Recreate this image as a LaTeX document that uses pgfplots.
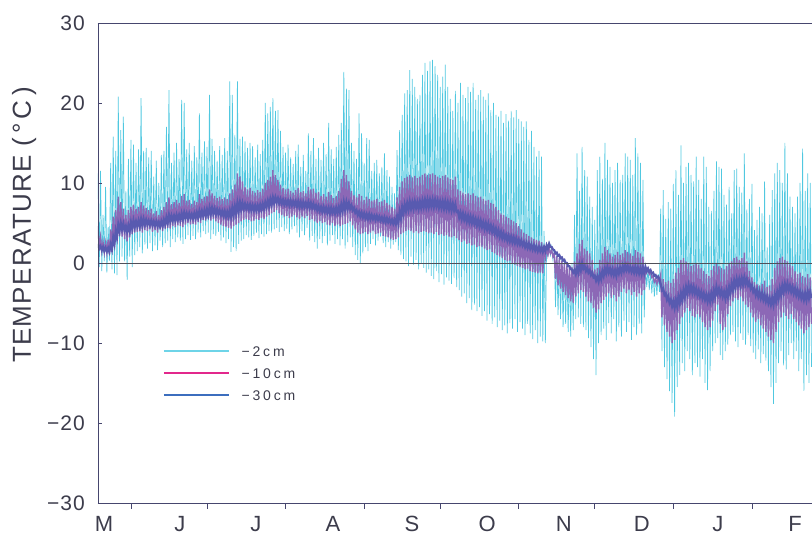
\documentclass[border=0pt]{standalone}
\usepackage{pgfplots}
\pgfplotsset{compat=1.18}
\usepackage{pgfplotstable}
\usepackage{fontspec}
\setmainfont{Liberation Sans}[LetterSpace=5]
\newfontfamily\legfont{Liberation Sans}[LetterSpace=20]
\definecolor{c2}{RGB}{80,200,224}
\definecolor{p10}{RGB}{140,104,182}
\definecolor{b30}{RGB}{88,90,176}
\definecolor{legc}{RGB}{110,212,232}
\definecolor{legm}{RGB}{226,40,140}
\definecolor{legb}{RGB}{60,110,190}
\definecolor{axcol}{RGB}{70,70,110}
\definecolor{zerocol}{RGB}{80,80,90}
\definecolor{txtcol}{RGB}{60,60,75}
% soil temperature: rows alternate daily maximum (t = day) and daily minimum (t = day + 0.5)
\pgfplotstableread{
t T2 T10 T30
0 11.2 4.6 2.4
0.5 -0.5 1.8 1.8
1 11.5 3.2 2.1
1.5 -1.0 1.5 1.6
2 6.0 2.6 2.0
2.5 0.2 1.3 1.5
3 9.5 2.5 1.9
3.5 -1.2 1.2 1.5
4 4.5 2.9 1.9
4.5 0.3 1.1 1.4
5 12.5 4.2 2.3
5.5 -0.8 1.4 1.7
6 15.8 5.8 3.2
6.5 -1.3 2.2 2.4
7 14.0 6.6 4.0
7.5 -1.5 2.8 3.2
8 20.8 8.3 4.8
8.5 0.2 3.4 4.0
9 16.6 7.6 5.0
9.5 0.8 3.3 4.2
10 18.3 6.8 4.9
10.5 0.2 3.0 4.1
11 9.0 6.0 4.6
11.5 -2.1 2.7 3.9
12 13.0 6.6 4.7
12.5 0.8 3.2 4.0
13 15.4 7.0 5.1
13.5 -0.5 3.6 4.3
14 14.8 7.3 5.3
14.5 1.0 3.8 4.5
15 12.5 6.8 5.2
15.5 1.5 3.9 4.6
16 14.2 7.0 5.3
16.5 2.0 4.0 4.6
17 20.6 7.6 5.5
17.5 1.2 3.8 4.7
18 14.0 7.2 5.5
18.5 2.3 4.1 4.8
19 14.4 6.9 5.4
19.5 1.8 4.0 4.8
20 13.2 6.6 5.3
20.5 2.5 4.2 4.8
21 14.0 6.8 5.3
21.5 1.5 3.9 4.7
22 10.8 6.2 5.2
22.5 2.2 4.1 4.7
23 12.8 6.5 5.2
23.5 1.6 3.8 4.6
24 10.0 6.0 5.1
24.5 2.8 4.2 4.6
25 13.5 6.6 5.2
25.5 2.0 4.0 4.6
26 14.0 7.0 5.4
26.5 2.5 4.3 4.8
27 17.0 7.6 5.7
27.5 2.8 4.4 5.0
28 21.6 8.2 6.0
28.5 2.0 4.3 5.2
29 12.5 7.4 5.9
29.5 3.0 4.6 5.3
30 13.8 7.6 5.9
30.5 2.6 4.5 5.3
31 15.0 7.9 6.0
31.5 3.2 4.7 5.4
32 13.0 7.5 6.0
32.5 2.8 4.6 5.4
33 20.4 8.4 6.2
33.5 2.4 4.5 5.5
34 20.0 8.6 6.3
34.5 3.0 4.8 5.6
35 14.2 7.8 6.2
35.5 3.5 5.0 5.6
36 15.0 7.9 6.2
36.5 2.9 4.8 5.6
37 12.8 7.4 6.1
37.5 3.4 4.9 5.6
38 14.6 7.8 6.2
38.5 3.0 4.8 5.6
39 13.2 7.6 6.3
39.5 3.8 5.1 5.7
40 18.7 8.6 6.5
40.5 3.2 5.0 5.8
41 13.8 8.0 6.5
41.5 4.0 5.4 5.9
42 15.2 8.3 6.6
42.5 3.6 5.3 5.9
43 14.5 8.4 6.7
43.5 3.8 5.5 6.0
44 21.0 9.2 6.9
44.5 3.0 5.3 6.1
45 15.5 8.7 6.9
45.5 3.6 5.5 6.2
46 14.0 8.4 6.8
46.5 3.4 5.2 6.1
47 12.8 8.1 6.7
47.5 3.9 5.0 6.1
48 14.6 8.3 6.6
48.5 2.8 4.8 6.0
49 13.5 8.0 6.5
49.5 3.2 4.6 5.9
50 15.6 8.2 6.5
50.5 2.5 4.5 5.8
51 14.0 8.0 6.4
51.5 3.0 4.4 5.8
52 22.7 8.7 6.6
52.5 1.4 4.3 5.8
53 21.0 9.2 6.9
53.5 2.0 4.6 6.0
54 16.0 9.8 7.1
54.5 1.5 4.8 6.2
55 22.7 11.2 7.5
55.5 2.4 5.0 6.5
56 15.5 10.8 7.6
56.5 2.8 5.2 6.7
57 15.8 10.2 7.5
57.5 3.0 5.4 6.8
58 15.2 9.5 7.4
58.5 3.5 5.5 6.8
59 14.4 9.2 7.3
59.5 3.2 5.4 6.7
60 15.0 9.4 7.3
60.5 2.9 5.2 6.6
61 14.6 9.0 7.2
61.5 3.4 5.3 6.6
62 13.2 8.8 7.2
62.5 3.8 5.5 6.6
63 14.8 9.1 7.2
63.5 3.1 5.4 6.6
64 13.6 8.9 7.3
64.5 3.6 5.6 6.7
65 15.4 9.3 7.4
65.5 3.3 5.5 6.8
66 20.0 10.0 7.6
66.5 3.6 5.8 7.0
67 18.7 10.4 7.8
67.5 4.0 6.0 7.1
68 19.5 10.8 8.0
68.5 3.8 6.2 7.3
69 20.6 11.6 8.2
69.5 4.2 6.4 7.5
70 19.0 11.0 8.2
70.5 4.4 6.6 7.6
71 19.1 10.4 8.1
71.5 3.9 6.2 7.5
72 16.5 9.8 8.0
72.5 4.5 6.0 7.4
73 14.5 9.4 7.9
73.5 4.0 5.8 7.3
74 13.8 9.2 7.8
74.5 4.3 5.9 7.3
75 14.8 9.3 7.8
75.5 3.6 5.6 7.2
76 13.2 9.0 7.8
76.5 4.2 5.8 7.2
77 12.4 8.8 7.7
77.5 4.6 6.0 7.2
78 14.0 9.1 7.7
78.5 3.8 5.7 7.1
79 14.8 9.4 7.7
79.5 3.2 5.5 7.0
80 12.0 8.9 7.6
80.5 4.0 5.8 7.0
81 13.5 9.0 7.6
81.5 3.5 5.6 7.0
82 11.5 8.7 7.5
82.5 4.4 5.9 7.0
83 16.2 9.5 7.6
83.5 2.8 5.4 6.9
84 14.0 9.2 7.5
84.5 3.4 5.5 6.9
85 15.6 9.3 7.4
85.5 2.6 5.2 6.8
86 13.0 8.8 7.2
86.5 1.8 5.0 6.6
87 14.4 8.9 7.1
87.5 3.0 5.2 6.5
88 12.9 8.4 7.0
88.5 2.5 5.0 6.4
89 15.0 8.6 7.0
89.5 3.4 5.1 6.4
90 13.6 8.3 6.9
90.5 2.2 4.8 6.3
91 17.5 8.9 6.9
91.5 2.8 4.7 6.2
92 14.2 8.5 6.9
92.5 3.5 5.0 6.3
93 13.0 8.1 6.8
93.5 2.4 4.6 6.2
94 14.5 8.4 6.9
94.5 3.0 4.8 6.3
95 16.0 9.0 7.0
95.5 2.2 4.6 6.3
96 17.5 10.5 7.3
96.5 3.0 4.8 6.5
97 23.9 11.6 7.6
97.5 1.8 4.9 6.7
98 21.8 11.0 7.6
98.5 2.6 5.0 6.8
99 21.6 10.2 7.5
99.5 3.2 5.2 6.8
100 15.0 9.0 7.2
100.5 2.0 4.7 6.6
101 14.0 8.5 6.9
101.5 1.0 4.2 6.3
102 13.0 8.2 6.6
102.5 0.4 3.8 6.0
103 18.7 8.6 6.4
103.5 0.0 3.6 5.8
104 16.2 8.4 6.3
104.5 1.2 3.7 5.7
105 12.5 7.9 6.2
105.5 2.0 3.9 5.6
106 15.6 8.3 6.1
106.5 1.5 3.6 5.5
107 15.4 8.0 6.1
107.5 2.4 3.8 5.5
108 11.5 7.8 6.0
108.5 3.0 4.0 5.5
109 12.5 7.9 5.9
109.5 2.2 3.6 5.4
110 12.9 8.0 5.9
110.5 2.8 3.7 5.4
111 11.2 7.6 5.8
111.5 3.3 3.8 5.3
112 12.0 7.7 5.7
112.5 2.5 3.4 5.2
113 13.7 7.9 5.7
113.5 2.0 3.3 5.1
114 11.6 7.5 5.6
114.5 2.6 3.2 5.1
115 10.8 7.3 5.5
115.5 1.8 3.0 5.0
116 9.5 7.0 5.4
116.5 2.3 2.9 4.9
117 8.7 6.8 5.4
117.5 2.6 3.0 4.9
118 14.1 8.2 5.8
118.5 1.6 3.2 5.0
119 16.6 9.5 6.4
119.5 1.0 3.6 5.6
120 18.5 10.2 7.0
120.5 0.5 3.8 6.2
121 21.2 10.6 7.3
121.5 0.2 4.0 6.5
122 21.6 10.8 7.5
122.5 -0.4 4.1 6.7
123 24.1 11.0 7.7
123.5 0.8 4.0 6.8
124 23.0 10.7 7.6
124.5 -0.2 3.8 6.8
125 22.0 10.9 7.7
125.5 0.4 4.0 6.9
126 20.5 10.6 7.6
126.5 -0.8 3.7 6.8
127 21.0 10.8 7.7
127.5 0.0 3.9 6.9
128 23.5 11.0 7.8
128.5 -0.6 4.0 7.0
129 25.0 11.2 7.9
129.5 -1.2 3.9 7.0
130 24.0 11.0 7.9
130.5 -0.8 3.7 7.0
131 25.2 11.1 7.9
131.5 -1.6 3.8 7.1
132 25.4 11.2 7.9
132.5 -2.0 3.6 7.0
133 24.6 11.0 7.9
133.5 -1.0 3.9 7.1
134 23.5 10.8 7.8
134.5 -2.4 3.5 6.9
135 22.0 10.6 7.7
135.5 -1.4 3.6 6.9
136 23.3 10.9 7.7
136.5 -2.7 3.4 6.8
137 24.8 11.0 7.7
137.5 -1.8 3.5 6.8
138 22.0 10.7 7.6
138.5 -2.2 3.3 6.7
139 20.5 10.5 7.5
139.5 -2.6 3.2 6.6
140 19.0 10.4 7.4
140.5 -1.9 3.4 6.6
141 21.5 10.8 7.3
141.5 -3.0 3.1 6.4
142 20.0 9.2 6.5
142.5 -3.4 2.9 5.7
143 22.5 9.0 6.3
143.5 -4.2 2.6 5.5
144 21.0 8.8 6.2
144.5 -3.8 2.8 5.4
145 20.6 8.6 6.0
145.5 -5.0 2.4 5.2
146 22.0 8.7 5.9
146.5 -4.4 2.5 5.1
147 21.4 8.5 5.8
147.5 -5.9 2.2 5.0
148 22.5 8.7 5.7
148.5 -5.2 2.3 4.9
149 20.4 8.4 5.5
149.5 -6.0 2.0 4.7
150 21.0 8.2 5.4
150.5 -5.5 2.1 4.6
151 21.6 8.3 5.3
151.5 -6.6 2.0 4.5
152 20.8 8.0 5.1
152.5 -6.0 1.8 4.3
153 20.4 7.8 5.0
153.5 -7.2 1.6 4.2
154 21.2 7.9 4.9
154.5 -6.4 1.7 4.1
155 19.1 7.5 4.7
155.5 -7.6 1.4 3.9
156 20.0 7.4 4.5
156.5 -6.8 1.2 3.7
157 18.5 7.0 4.3
157.5 -8.0 1.0 3.5
158 18.3 6.6 4.1
158.5 -7.2 0.8 3.3
159 19.0 6.2 3.9
159.5 -8.4 0.6 3.1
160 17.5 6.0 3.7
160.5 -7.8 0.4 3.0
161 18.6 5.8 3.5
161.5 -8.8 0.2 2.8
162 17.8 5.6 3.4
162.5 -7.5 0.3 2.7
163 19.0 5.4 3.3
163.5 -8.2 0.0 2.6
164 18.2 5.2 3.2
164.5 -7.0 -0.2 2.5
165 19.1 5.0 3.1
165.5 -8.6 -0.4 2.4
166 18.0 4.6 2.9
166.5 -7.4 -0.5 2.3
167 17.7 4.2 2.8
167.5 -8.2 -0.6 2.2
168 17.0 3.8 2.6
168.5 -9.0 -0.8 2.0
169 17.7 3.6 2.5
169.5 -7.6 -0.7 1.9
170 15.4 3.4 2.4
170.5 -8.8 -1.0 1.8
171 16.5 3.2 2.3
171.5 -9.5 -1.1 1.7
172 14.5 3.0 2.2
172.5 -8.4 -1.2 1.6
173 13.3 2.9 2.1
173.5 -10.0 -1.3 1.5
174 14.0 2.8 2.0
174.5 -9.2 -1.2 1.5
175 13.3 2.6 2.0
175.5 -9.8 -1.3 1.4
176 4.0 2.2 2.0
176.5 -10.0 0.6 1.5
177 2.4 2.0 2.2
177.5 0.8 1.0 1.8
178 2.4 1.8 2.4
178.5 1.0 1.2 2.0
179 2.0 1.6 2.0
179.5 0.4 0.8 1.7
180 1.6 1.2 1.6
180.5 -5.5 -2.0 1.2
181 1.2 0.9 1.3
181.5 -6.5 -2.8 0.9
182 0.8 0.6 1.0
182.5 -7.0 -3.2 0.6
183 0.5 0.3 0.7
183.5 -8.0 -3.6 0.3
184 0.2 0.0 0.4
184.5 -7.6 -4.0 0.0
185 -0.2 -0.3 0.0
185.5 -8.6 -4.4 -0.4
186 -0.4 -0.6 -0.4
186.5 -9.2 -4.8 -0.8
187 0.0 -0.5 -0.8
187.5 -8.4 -5.0 -1.2
188 6.0 0.2 -0.9
188.5 -7.0 -4.2 -1.4
189 13.7 1.2 -0.6
189.5 -6.8 -3.8 -1.2
190 9.0 2.4 -0.2
190.5 -7.6 -3.4 -0.9
191 14.5 2.9 0.0
191.5 -8.0 -3.6 -0.7
192 11.6 1.8 -0.4
192.5 -8.4 -4.2 -1.0
193 10.8 1.5 -0.6
193.5 -9.4 -4.8 -1.2
194 8.3 1.2 -0.9
194.5 -10.5 -5.0 -1.5
195 7.0 0.4 -1.2
195.5 -12.0 -5.6 -1.8
196 5.4 -0.8 -1.6
196.5 -14.0 -6.2 -2.2
197 11.6 -0.6 -1.7
197.5 -10.0 -5.8 -2.3
198 13.3 0.4 -1.4
198.5 -9.0 -5.0 -2.0
199 10.5 1.2 -1.0
199.5 -8.2 -4.6 -1.6
200 15.0 2.0 -0.7
200.5 -9.6 -4.2 -1.3
201 12.9 1.6 -0.5
201.5 -7.5 -3.8 -1.2
202 12.0 1.2 -0.7
202.5 -8.8 -4.4 -1.4
203 10.0 0.8 -0.8
203.5 -7.0 -4.0 -1.5
204 11.6 1.0 -0.9
204.5 -9.8 -4.8 -1.6
205 12.5 1.4 -0.7
205.5 -8.0 -4.2 -1.3
206 10.4 1.0 -0.6
206.5 -9.2 -3.6 -1.2
207 11.0 1.2 -0.4
207.5 -7.2 -3.2 -1.0
208 13.7 1.6 -0.3
208.5 -8.6 -3.8 -0.9
209 13.3 1.4 -0.4
209.5 -7.4 -3.4 -1.0
210 12.9 1.2 -0.5
210.5 -9.6 -4.0 -1.1
211 11.0 0.9 -0.6
211.5 -8.0 -3.6 -1.2
212 15.6 1.6 -0.5
212.5 -9.0 -4.2 -1.2
213 13.7 1.4 -0.6
213.5 -7.6 -3.8 -1.3
214 12.5 1.2 -0.7
214.5 -8.8 -4.0 -1.4
215 10.4 0.8 -0.6
215.5 -6.8 -3.4 -1.3
216 -0.4 -0.5 -0.5
216.5 -3.0 -1.2 -1.0
217 -0.6 -0.7 -0.7
217.5 -3.4 -1.4 -1.1
218 -0.9 -1.0 -0.9
218.5 -3.8 -1.8 -1.3
219 -1.2 -1.6 -1.2
219.5 -4.2 -2.4 -1.6
220 -1.6 -2.0 -1.5
220.5 -4.0 -2.6 -1.8
221 -1.4 -1.8 -1.7
221.5 -3.6 -2.4 -2.0
222 6.8 -1.5 -2.6
222.5 -11.0 -6.8 -3.4
223 9.1 -2.0 -3.2
223.5 -13.0 -7.8 -4.0
224 5.5 -2.4 -3.8
224.5 -14.5 -8.6 -4.6
225 7.6 -2.2 -4.2
225.5 -16.0 -9.2 -5.0
226 6.8 -2.5 -4.6
226.5 -17.5 -10.0 -5.4
227 9.9 -2.0 -4.8
227.5 -19.2 -9.6 -5.6
228 11.6 -1.2 -4.6
228.5 -15.5 -8.4 -5.4
229 8.5 -0.6 -4.2
229.5 -14.0 -7.6 -5.0
230 14.7 0.4 -3.8
230.5 -12.5 -6.8 -4.6
231 10.0 0.6 -3.4
231.5 -13.5 -6.2 -4.2
232 12.0 0.2 -3.0
232.5 -11.0 -5.6 -3.8
233 12.5 0.0 -2.8
233.5 -12.0 -6.0 -3.6
234 11.0 -0.4 -2.9
234.5 -14.0 -6.6 -3.7
235 10.2 -0.2 -3.0
235.5 -12.5 -6.8 -3.8
236 13.3 0.0 -3.2
236.5 -13.0 -6.4 -4.0
237 10.4 -0.2 -3.4
237.5 -14.2 -6.8 -4.2
238 8.0 -0.6 -3.6
238.5 -12.0 -7.4 -4.4
239 13.3 -1.0 -3.8
239.5 -15.0 -8.0 -4.6
240 12.0 -1.4 -4.0
240.5 -15.9 -8.4 -4.8
241 7.0 -1.6 -4.0
241.5 -13.5 -8.0 -4.8
242 6.5 -0.9 -3.8
242.5 -11.0 -7.2 -4.6
243 9.0 -0.4 -3.4
243.5 -10.0 -6.0 -4.2
244 12.7 0.0 -3.0
244.5 -9.4 -5.2 -3.8
245 12.0 -0.4 -3.2
245.5 -11.5 -7.6 -4.0
246 11.8 -0.6 -3.4
246.5 -12.1 -8.4 -4.2
247 8.5 -0.8 -3.6
247.5 -11.0 -8.0 -4.4
248 7.3 -0.4 -3.4
248.5 -10.2 -6.4 -4.2
249 9.5 0.0 -3.0
249.5 -9.0 -5.4 -3.8
250 6.2 0.2 -2.6
250.5 -8.6 -4.8 -3.4
251 11.6 0.6 -2.2
251.5 -9.8 -4.4 -3.0
252 11.8 0.8 -2.0
252.5 -10.5 -4.6 -2.8
253 9.5 0.4 -2.0
253.5 -8.8 -4.2 -2.8
254 8.8 0.6 -1.9
254.5 -9.6 -4.8 -2.7
255 13.7 1.3 -1.8
255.5 -10.2 -5.2 -2.6
256 6.7 0.2 -2.0
256.5 -9.0 -5.5 -2.8
257 8.0 -1.0 -2.4
257.5 -10.4 -6.2 -3.2
258 9.9 -1.8 -2.8
258.5 -11.2 -6.8 -3.6
259 4.1 -2.4 -3.2
259.5 -12.0 -7.4 -4.0
260 5.4 -2.6 -3.4
260.5 -10.8 -7.0 -4.2
261 7.0 -2.8 -3.6
261.5 -12.5 -7.8 -4.4
262 6.2 -2.6 -3.8
262.5 -11.4 -8.2 -4.6
263 10.2 -2.2 -4.0
263.5 -12.2 -8.6 -4.8
264 2.0 -3.0 -4.2
264.5 -13.5 -9.2 -5.0
265 6.0 -2.8 -4.4
265.5 -15.5 -9.6 -5.2
266 9.1 -2.0 -4.4
266.5 -17.6 -10.0 -5.2
267 11.2 -0.6 -4.0
267.5 -15.0 -8.6 -4.8
268 12.5 0.2 -3.6
268.5 -12.5 -7.4 -4.4
269 11.6 0.6 -3.2
269.5 -11.0 -6.8 -4.0
270 10.0 0.8 -2.8
270.5 -12.8 -6.2 -3.6
271 15.0 0.4 -2.6
271.5 -13.3 -6.6 -3.4
272 11.2 0.2 -2.6
272.5 -11.5 -7.0 -3.4
273 8.3 -0.2 -2.8
273.5 -10.0 -6.4 -3.6
274 7.0 -0.4 -3.0
274.5 -12.0 -7.0 -3.8
275 6.2 -1.0 -3.2
275.5 -11.0 -7.4 -4.0
276 8.3 -1.4 -3.4
276.5 -13.5 -7.8 -4.2
277 10.0 -1.2 -3.6
277.5 -12.0 -8.2 -4.4
278 14.3 -1.6 -3.8
278.5 -16.0 -8.8 -4.6
279 9.0 -1.8 -3.8
279.5 -14.0 -8.4 -4.6
280 11.2 -1.4 -3.6
280.5 -15.0 -8.0 -4.4
281 10.0 -1.8 -3.6
281.5 -13.0 -7.6 -4.4
}\soil

\begin{document}
\begin{tikzpicture}
\begin{axis}[
  at={(0pt,0pt)}, anchor=south west,
  scale only axis, width=714pt, height=480pt,
  xmin=0, xmax=281.7, ymin=-30, ymax=30,
  axis x line*=box, axis y line*=left,
  axis line style={draw=axcol, line width=0.9pt},
  axis on top,
  tick pos=left,
  ytick={-30,-20,-10,0,10,20,30},
  yticklabels={−30,−20,−10,0,10,20,30},
  xtick={2.4,32.3,62.3,92.7,123.9,153.5,183.8,214.6,244.6,275},
  xticklabels={M,J,J,A,S,O,N,D,J,F},
  minor xtick={13,43,74,105,135,166,196,227,258},
  major x tick style={draw=none},
  minor x tick style={yshift=-6pt},
  minor tick length=6pt,
  major tick length=4pt,
  tick style={draw=axcol, line width=0.7pt},
  yticklabel style={font=\fontsize{21}{24}\selectfont, text=txtcol, anchor=east, inner sep=0pt, xshift=-13pt},
  xticklabel style={font=\fontsize{22}{24}\selectfont, text=txtcol, anchor=north, inner sep=0pt, text depth=0pt, yshift=-13pt},
  every axis y label/.style={at={(axis description cs:-0.1036,0.579)}, rotate=90, anchor=center},
  ylabel={TEMPERATURE (\,°\,C\,)},
  ylabel style={font=\fontsize{26}{28}\selectfont, text=txtcol},
  extra y ticks={0}, extra y tick labels={},
  extra y tick style={grid=major, major grid style={draw=zerocol, line width=0.8pt}},
  legend style={at={(axis cs:25.64,-10.375)}, anchor=north west, draw=none, fill=none,
    inner sep=0pt, row sep=12pt, font=\legfont\fontsize{14}{16}\selectfont, text=txtcol,
    nodes={inner sep=0pt, text height=10pt, text depth=0pt},
    /tikz/every odd column/.append style={column sep=12pt}},
  legend cell align=left,
  legend image code/.code={\draw[#1, line width=1.5pt] (0pt,0pt) -- (65pt,0pt);},
]
\addplot[c2, line width=0.7pt, forget plot] table[x=t, y=T2] {\soil};
\addplot[p10, line width=1.4pt, forget plot] table[x=t, y=T10] {\soil};
\addplot[b30, line width=2.2pt, forget plot] table[x=t, y=T30] {\soil};
\addlegendimage{draw=legc}
\addlegendentry{−2cm}
\addlegendimage{draw=legm}
\addlegendentry{−10cm}
\addlegendimage{draw=legb}
\addlegendentry{−30cm}
\end{axis}
\pgfresetboundingbox
\path[use as bounding box] (-98pt,-32pt) rectangle (714pt,503pt);
\end{tikzpicture}
\end{document}
